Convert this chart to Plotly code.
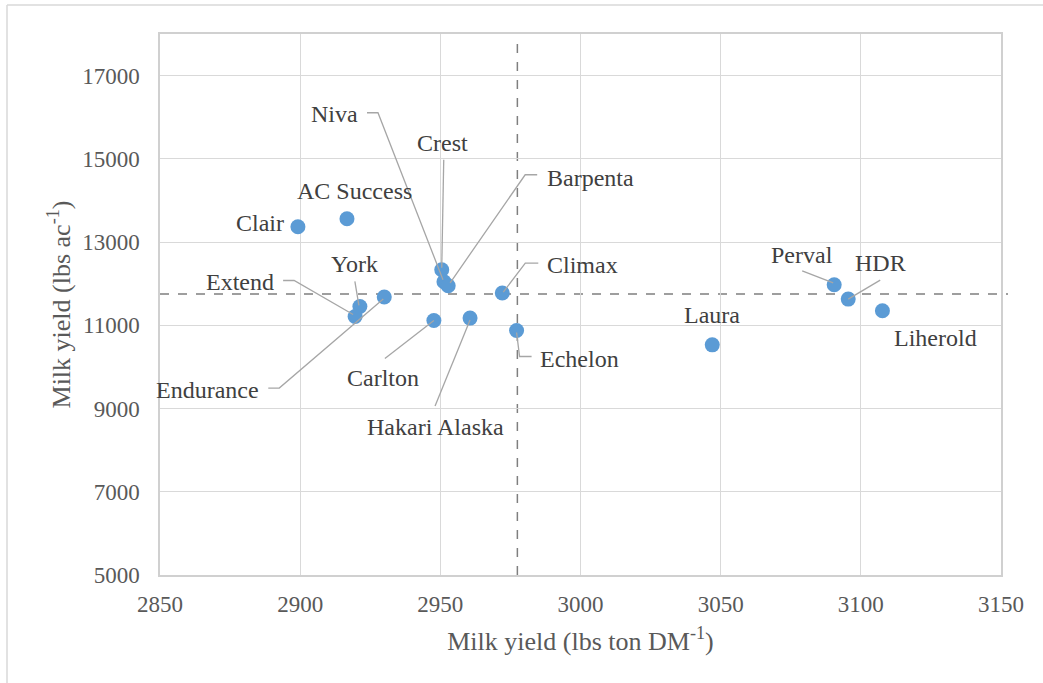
import plotly.graph_objects as go

# ---- data ----
varieties = ["Clair", "AC Success", "Crest", "Niva", "Barpenta", "Climax", "Echelon",
             "Hakari Alaska", "Carlton", "York", "Endurance", "Extend", "Laura",
             "Perval", "HDR", "Liherold"]
milk_per_ton = [2899.2, 2916.7, 2950.5, 2951.3, 2952.8, 2972.1, 2977.2,
                2960.6, 2947.7, 2921.3, 2930.0, 2919.6, 3047.0,
                3090.5, 3095.5, 3107.7]
milk_per_acre = [13370, 13560, 12335, 12047, 11950, 11775, 10875,
                 11173, 11116, 11453, 11679, 11212, 10531,
                 11974, 11630, 11349]
x_ticks = [2850, 2900, 2950, 3000, 3050, 3100, 3150]
y_ticks = [5000, 7000, 9000, 11000, 13000, 15000, 17000]

# ---- label placement (screen pixel offsets from the point, down positive) ----
label_offsets = {
    "Clair": (-38, -4), "AC Success": (8, -28), "Crest": (1, -127), "Niva": (-109, -168),
    "Barpenta": (142, -108), "Climax": (80, -28), "Echelon": (63, 28),
    "Hakari Alaska": (-35, 109), "Carlton": (-51, 58), "York": (-5, -42),
    "Endurance": (-177, 93), "Extend": (-115, -34), "Laura": (0, -30),
    "Perval": (-32, -30), "HDR": (32, -36), "Liherold": (53, 27),
}
leaders = {
    "Crest": [(2, -110), (0, -2)],
    "Niva": [(-77, -169), (-66, -169), (-1, -2)],
    "Barpenta": [(89, -111), (77, -111), (2, -3)],
    "Climax": [(36, -30), (23, -30), (1, -1)],
    "Echelon": [(0, 2), (3, 26), (15, 26)],
    "Hakari Alaska": [(-35, 88), (0, 2)],
    "Carlton": [(-49, 38), (0, 0)],
    "York": [(-5, -25), (-1, -1)],
    "Extend": [(-72, -36), (-61, -36), (-2, -2)],
    "Endurance": [(-116, 91), (-105, 91), (-1, 2)],
    "Perval": [(-32, -14), (-1, -2)],
    "HDR": [(32, -19), (0, 0)],
}

W, H = 1043, 683
ML, MR, MT, MB = 160, 42, 34, 108
PW, PH = W - ML - MR, H - MT - MB
FONT = "Liberation Serif, Times New Roman, serif"

fig = go.Figure()
fig.add_trace(go.Scatter(
    x=milk_per_ton, y=milk_per_acre, mode="markers",
    marker=dict(size=15, color="#5B9BD5", line=dict(width=0)),
    text=varieties, hoverinfo="text+x+y", showlegend=False, cliponaxis=False,
))

shapes = []
annotations = []
for name, xv, yv in zip(varieties, milk_per_ton, milk_per_acre):
    dx, dy = label_offsets[name]
    annotations.append(dict(
        x=xv, y=yv, xref="x", yref="y", text=name, showarrow=False,
        xshift=dx, yshift=-dy, font=dict(family=FONT, size=24, color="#404040"),
        xanchor="center", yanchor="middle",
    ))
    if name in leaders:
        pts = leaders[name]
        path = "M " + " L ".join(f"{px},{-py}" for px, py in pts)
        shapes.append(dict(
            type="path", xref="x", yref="y", xsizemode="pixel", ysizemode="pixel",
            xanchor=xv, yanchor=yv, path=path,
            line=dict(color="#A6A6A6", width=1.3), layer="above",
        ))

mean_x = sum(milk_per_ton) / len(milk_per_ton)
mean_y = sum(milk_per_acre) / len(milk_per_acre)
ymin, ymax = 5000, 18000
xmin, xmax = 2850, 3150

# mean dashed lines
shapes.append(dict(type="line", xref="x", yref="y", x0=mean_x, x1=mean_x, y0=ymin, y1=17850,
                   line=dict(color="#7F7F7F", width=1.5, dash="dash"), layer="below"))
shapes.append(dict(type="line", xref="paper", yref="y", x0=0, x1=(1008 - ML) / PW,
                   y0=mean_y, y1=mean_y,
                   line=dict(color="#7F7F7F", width=1.5, dash="dash"), layer="below"))

# chart-area border (top and left edges visible)
def px2paper_x(px):
    return (px - ML) / PW

def px2paper_y(py):
    return (H - MB - py) / PH

shapes.append(dict(type="line", xref="paper", yref="paper",
                   x0=px2paper_x(7), x1=px2paper_x(1050), y0=px2paper_y(5), y1=px2paper_y(5),
                   line=dict(color="#D9D9D9", width=1.5)))
shapes.append(dict(type="line", xref="paper", yref="paper",
                   x0=px2paper_x(7), x1=px2paper_x(7), y0=px2paper_y(5), y1=px2paper_y(700),
                   line=dict(color="#D9D9D9", width=1.5)))

axis_common = dict(
    showgrid=True, gridcolor="#D9D9D9", gridwidth=1.3,
    showline=True, linecolor="#D0D0D0", linewidth=1.5, mirror=True,
    zeroline=False, ticks="",
    tickfont=dict(family=FONT, size=23, color="#595959"),
)

fig.update_layout(
    width=W, height=H,
    margin=dict(l=ML, r=MR, t=MT, b=MB),
    paper_bgcolor="white", plot_bgcolor="white",
    font=dict(family=FONT),
    xaxis=dict(range=[xmin, xmax], tickvals=x_ticks, ticktext=[str(v) for v in x_ticks],
               ticklabelstandoff=8,
               title=dict(text="Milk yield (lbs ton DM<sup>-1</sup>)", standoff=15,
                          font=dict(family=FONT, size=26, color="#595959")),
               **axis_common),
    yaxis=dict(range=[ymin, ymax], tickvals=y_ticks, ticktext=[str(v) for v in y_ticks],
               ticklabelstandoff=14,
               title=dict(text="Milk yield (lbs ac<sup>-1</sup>)", standoff=4,
                          font=dict(family=FONT, size=26, color="#595959")),
               **axis_common),
    shapes=shapes,
    annotations=annotations,
)

fig.write_html("out.html", config={"displayModeBar": False},
               post_script="document.body.style.margin='0';document.body.style.overflow='hidden';")
